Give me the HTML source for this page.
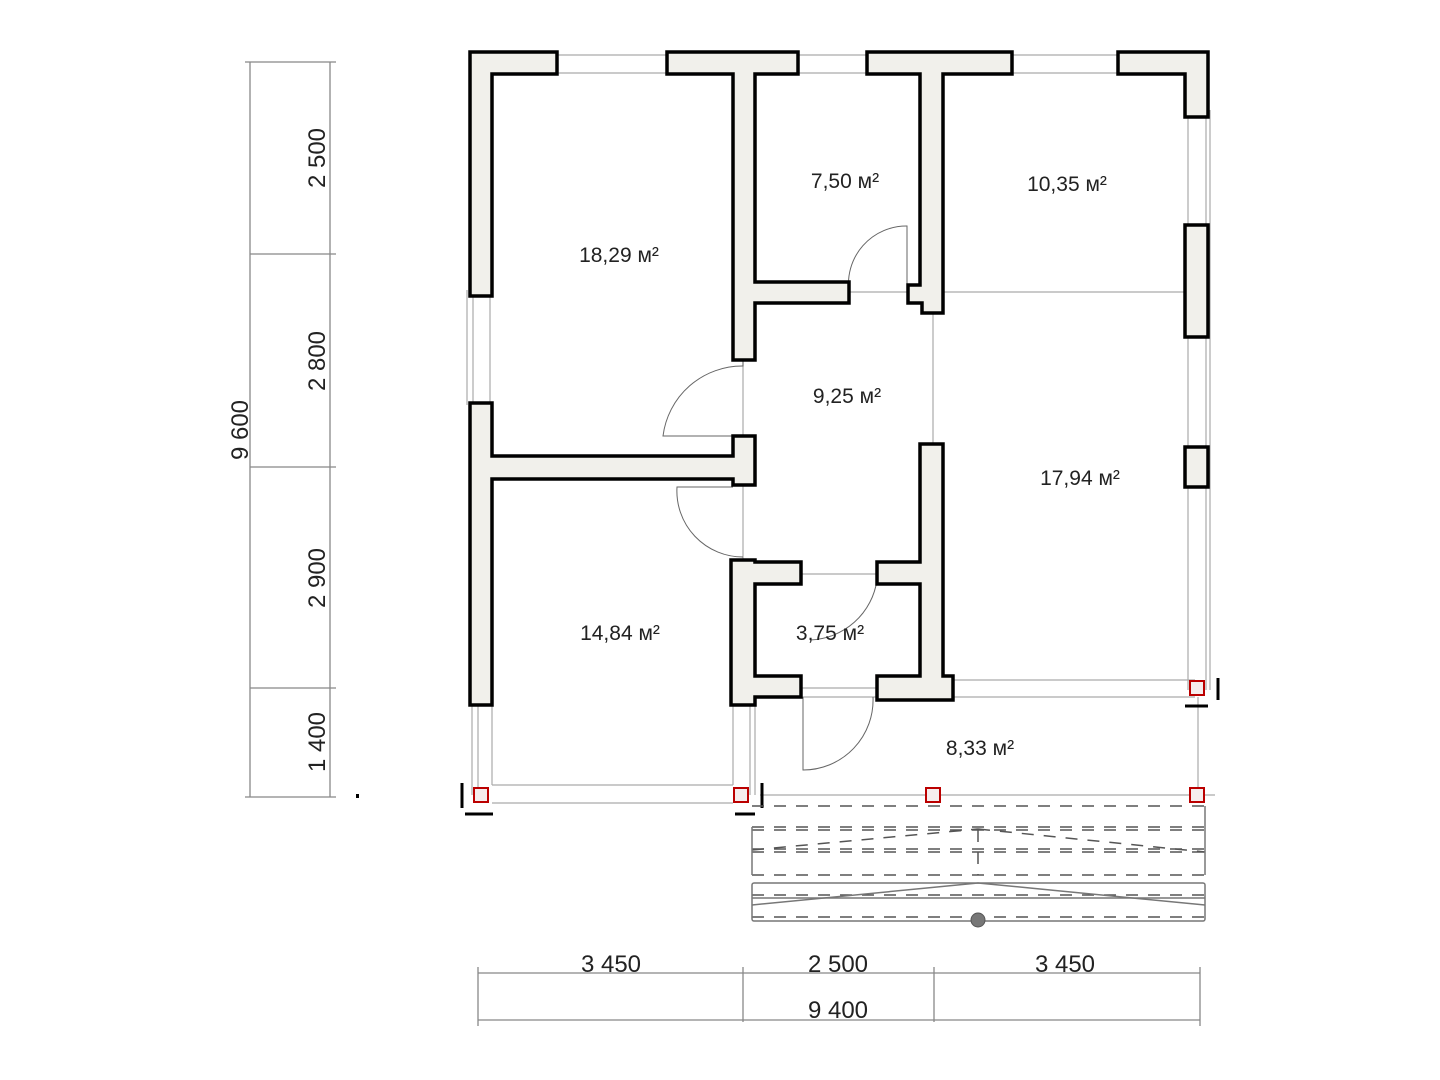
<!DOCTYPE html>
<html><head><meta charset="utf-8"><style>
html,body{margin:0;padding:0;background:#fff;width:1440px;height:1080px;overflow:hidden}
text{font-family:"Liberation Sans Narrow","Liberation Sans",sans-serif;fill:#222}
</style></head><body>
<svg width="1440" height="1080" viewBox="0 0 1440 1080" xmlns="http://www.w3.org/2000/svg">
<g fill="none" stroke="#aaa" stroke-width="1.2">
<!-- window frames top -->
<line x1="557" y1="55" x2="667" y2="55"/><line x1="557" y1="73" x2="667" y2="73"/>
<line x1="798" y1="55" x2="867" y2="55"/><line x1="798" y1="73" x2="867" y2="73"/>
<line x1="1012" y1="55" x2="1118" y2="55"/><line x1="1012" y1="73" x2="1118" y2="73"/>
<!-- left windows -->
<line x1="467" y1="290" x2="467" y2="405"/><line x1="473" y1="296" x2="473" y2="403"/><line x1="490" y1="296" x2="490" y2="403"/>
<!-- right side -->
<line x1="1188" y1="117" x2="1188" y2="690"/><line x1="1206" y1="117" x2="1206" y2="690"/><line x1="1210" y1="110" x2="1210" y2="690"/>
<!-- room dividers -->
<line x1="943" y1="292" x2="1185" y2="292"/>
<line x1="933" y1="313" x2="933" y2="444"/>
<line x1="743" y1="360" x2="743" y2="436"/><line x1="743" y1="485" x2="743" y2="560"/>
<line x1="849" y1="292" x2="908" y2="292"/>
<line x1="801" y1="574" x2="877" y2="574"/>
<line x1="801" y1="688" x2="877" y2="688"/>
<!-- bottom wall lines -->
<line x1="953" y1="680" x2="1195" y2="680"/><line x1="953" y1="697" x2="1195" y2="697"/>
<line x1="801" y1="697" x2="877" y2="697"/>
<!-- porch -->
<line x1="472" y1="705" x2="472" y2="795"/><line x1="478" y1="705" x2="478" y2="795"/><line x1="492" y1="705" x2="492" y2="785"/>
<line x1="733" y1="705" x2="733" y2="785"/><line x1="750" y1="705" x2="750" y2="795"/><line x1="755" y1="705" x2="755" y2="795"/>
<line x1="492" y1="785" x2="733" y2="785"/><line x1="492" y1="803" x2="733" y2="803"/>
<line x1="760" y1="795" x2="1215" y2="795"/>
<line x1="1198" y1="697" x2="1198" y2="790"/>
</g>
<!-- doors -->
<g fill="none" stroke="#666" stroke-width="1">
<path d="M849,292 A58,58 0 0 1 907,226 L907,292"/>
<path d="M743,360 L743,366 A80,80 0 0 0 663,436 L733,436"/>
<path d="M733,487 L677,487 A66,66 0 0 0 743,557"/>
<path d="M877,574 L877,580 A70,70 0 0 1 810,640"/>
<path d="M803,697 L803,770 A70,70 0 0 0 873,697"/>
</g>
<!-- walls -->
<g fill="#f1f0eb" stroke="#000" stroke-width="3.5" stroke-linejoin="miter">
<polygon points="470,52 557,52 557,74 492,74 492,296 470,296"/>
<polygon points="667,52 798,52 798,74 755,74 755,282 849,282 849,303 755,303 755,360 733,360 733,74 667,74"/>
<polygon points="867,52 1012,52 1012,74 943,74 943,313 922,313 922,303 908,303 908,285 920,285 920,74 867,74"/>
<polygon points="1118,52 1208,52 1208,117 1185,117 1185,74 1118,74"/>
<rect x="1185" y="225" width="23" height="112"/>
<rect x="1185" y="447" width="23" height="40"/>
<polygon points="470,403 492,403 492,456 733,456 733,436 755,436 755,485 733,485 733,479 492,479 492,705 470,705"/>
<polygon points="731,560 755,560 755,562 801,562 801,584 755,584 755,676 801,676 801,697 755,697 755,705 731,705"/>
<polygon points="920,444 943,444 943,676 953,676 953,700 877,700 877,676 920,676 920,584 877,584 877,562 920,562"/>
</g>
<!-- columns -->
<g fill="#f6eded" stroke="#b00" stroke-width="2">
<rect x="474" y="788" width="14" height="14"/><rect x="734" y="788" width="14" height="14"/>
<rect x="926" y="788" width="14" height="14"/><rect x="1190" y="788" width="14" height="14"/>
<rect x="1190" y="681" width="14" height="14"/>
</g>
<g stroke="#000" stroke-width="3">
<line x1="462" y1="783" x2="462" y2="808"/><line x1="465" y1="814" x2="493" y2="814"/>
<line x1="762" y1="783" x2="762" y2="808"/><line x1="735" y1="814" x2="755" y2="814"/>
<line x1="1218" y1="678" x2="1218" y2="700"/><line x1="1185" y1="706" x2="1208" y2="706"/>
</g>
<!-- stairs -->
<g fill="none" stroke="#555" stroke-width="1.5" stroke-dasharray="12,10">
<line x1="752" y1="806" x2="1205" y2="806"/>
<line x1="752" y1="827" x2="1205" y2="827"/><line x1="752" y1="830" x2="1205" y2="830"/>
<line x1="752" y1="849" x2="1205" y2="849"/><line x1="752" y1="852" x2="1205" y2="852"/>
<line x1="752" y1="875" x2="1205" y2="875"/>
<line x1="752" y1="895" x2="1205" y2="895"/><line x1="752" y1="917" x2="1205" y2="917"/>
<line x1="752" y1="850" x2="978" y2="829"/><line x1="978" y1="829" x2="1205" y2="852"/>
<line x1="978" y1="830" x2="978" y2="875"/>
</g>
<g fill="none" stroke="#777" stroke-width="1.5">
<rect x="752" y="883" width="453" height="38" rx="2"/>
<line x1="752" y1="898" x2="1205" y2="898"/>
<polyline points="752,905 978,883 1205,905"/>
<line x1="752" y1="827" x2="752" y2="875"/><line x1="1205" y1="806" x2="1205" y2="875"/>
</g>
<circle cx="978" cy="920" r="7" fill="#777" stroke="#555"/>
<!-- dimensions -->
<g stroke="#888" stroke-width="1.3">
<line x1="250" y1="62" x2="250" y2="797"/><line x1="330" y1="62" x2="330" y2="797"/>
<line x1="245" y1="62" x2="336" y2="62"/><line x1="250" y1="254" x2="336" y2="254"/>
<line x1="250" y1="467" x2="336" y2="467"/><line x1="250" y1="688" x2="336" y2="688"/>
<line x1="245" y1="797" x2="336" y2="797"/>
<line x1="478" y1="973" x2="1200" y2="973"/><line x1="478" y1="1020" x2="1200" y2="1020"/>
<line x1="478" y1="967" x2="478" y2="1026"/><line x1="743" y1="967" x2="743" y2="1022"/>
<line x1="934" y1="967" x2="934" y2="1022"/><line x1="1200" y1="967" x2="1200" y2="1026"/>
</g>
<rect x="356" y="794" width="3" height="4" fill="#000"/>
<g font-size="24">
<text transform="translate(325,158) rotate(-90)" text-anchor="middle">2 500</text>
<text transform="translate(325,361) rotate(-90)" text-anchor="middle">2 800</text>
<text transform="translate(325,578) rotate(-90)" text-anchor="middle">2 900</text>
<text transform="translate(325,742) rotate(-90)" text-anchor="middle">1 400</text>
<text transform="translate(248,430) rotate(-90)" text-anchor="middle">9 600</text>
<text x="611" y="972" text-anchor="middle">3 450</text>
<text x="838" y="972" text-anchor="middle">2 500</text>
<text x="1065" y="972" text-anchor="middle">3 450</text>
<text x="838" y="1018" text-anchor="middle">9 400</text>
</g>
<g font-size="21">
<text x="619" y="262" text-anchor="middle">18,29 м²</text>
<text x="845" y="188" text-anchor="middle">7,50 м²</text>
<text x="1067" y="191" text-anchor="middle">10,35 м²</text>
<text x="847" y="403" text-anchor="middle">9,25 м²</text>
<text x="1080" y="485" text-anchor="middle">17,94 м²</text>
<text x="620" y="640" text-anchor="middle">14,84 м²</text>
<text x="830" y="640" text-anchor="middle">3,75 м²</text>
<text x="980" y="755" text-anchor="middle">8,33 м²</text>
</g>
</svg>
</body></html>
